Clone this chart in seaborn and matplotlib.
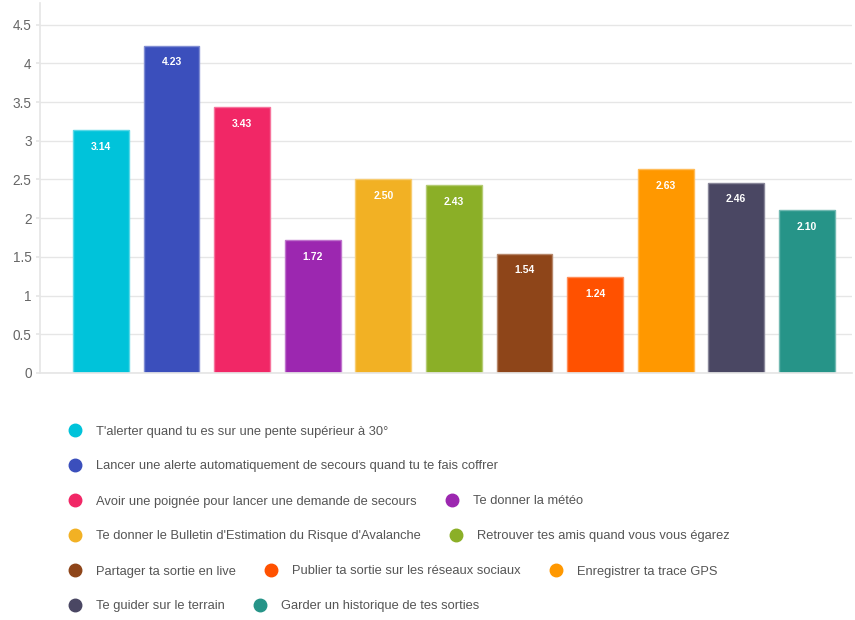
import matplotlib
matplotlib.use("Agg")
import matplotlib.pyplot as plt
import matplotlib.colors as mcolors
from matplotlib.lines import Line2D
import seaborn as sns
import pandas as pd

# Data
categories = [
    "T'alerter quand tu es sur une pente supérieur à 30°",
    "Lancer une alerte automatiquement de secours quand tu te fais coffrer",
    "Avoir une poignée pour lancer une demande de secours",
    "Te donner la météo",
    "Te donner le Bulletin d'Estimation du Risque d'Avalanche",
    "Retrouver tes amis quand vous vous égarez",
    "Partager ta sortie en live",
    "Publier ta sortie sur les réseaux sociaux",
    "Enregistrer ta trace GPS",
    "Te guider sur le terrain",
    "Garder un historique de tes sorties",
]
scores = [3.14, 4.23, 3.43, 1.72, 2.50, 2.43, 1.54, 1.24, 2.63, 2.46, 2.10]
colors = ["#00C3DA", "#3B4FBC", "#F12766", "#9C27B0", "#F2B124", "#8BAF27",
          "#8E4519", "#FF5100", "#FF9800", "#4A4763", "#269488"]
yticks = [0, 0.5, 1, 1.5, 2, 2.5, 3, 3.5, 4, 4.5]
ytick_labels = ["0", "0.5", "1", "1.5", "2", "2.5", "3", "3.5", "4", "4.5"]

df = pd.DataFrame({"option": categories, "score": scores})

sns.set_theme(style="white")
plt.rcParams["font.family"] = ["Liberation Sans", "DejaVu Sans"]

W, H = 855, 620
fig = plt.figure(figsize=(W / 100, H / 100), dpi=100)
ax = fig.add_axes([40 / W, 1 - 373 / H, (852 - 40) / W, 370 / H])

sns.barplot(data=df, x="option", y="score", hue="option", order=categories,
            hue_order=categories, palette=colors, dodge=False, legend=False,
            width=0.79, saturation=1, ax=ax)

for patch, c in zip(ax.patches, colors):
    light = mcolors.to_rgb(c)
    light = tuple(v + (1 - v) * 0.35 for v in light)
    patch.set_edgecolor(light)
    patch.set_linewidth(1)

# Value labels inside bars
for i, v in enumerate(scores):
    ax.annotate(f"{v:.2f}", (i, v), xytext=(0, -12), textcoords="offset points",
                ha="center", va="center", color="white", fontsize=7.5,
                fontweight="bold")

ax.set_xlim(-0.864, 10.64)
ax.set_ylim(0, 4.78)
ax.set_yticks(yticks)
ax.set_yticklabels(ytick_labels)
ax.set_xticks([])
ax.set_xlabel("")
ax.set_ylabel("")
ax.grid(axis="y", color="#e6e6e6", linewidth=1)
ax.set_axisbelow(True)
for s in ["top", "right"]:
    ax.spines[s].set_visible(False)
ax.spines["left"].set_color("#e6e6e6")
ax.spines["bottom"].set_color("#e6e6e6")
ax.tick_params(axis="y", length=3, color="#e6e6e6", labelsize=9.8,
               labelcolor="#666666", pad=3, left=True)

# Legend, flowing layout
fig.canvas.draw()
renderer = fig.canvas.get_renderer()
x0, x, y = 75, 75, 430
max_x = 820
fs = 9.3
for name, c in zip(categories, colors):
    t = fig.text(0, 0, name, fontsize=fs, color="#555555")
    tw = t.get_window_extent(renderer).width
    t.remove()
    if x != x0 and x + 21 + tw > max_x:
        x = x0
        y += 35
    fig.add_artist(Line2D([x / W], [1 - y / H], marker="o", markersize=9,
                          color=c, linestyle="none", transform=fig.transFigure))
    fig.text((x + 21) / W, 1 - (y + 4.5) / H, name, fontsize=fs,
             color="#555555", va="baseline", ha="left")
    x = x + 21 + tw + 35

fig.savefig("out.png", dpi=100)
